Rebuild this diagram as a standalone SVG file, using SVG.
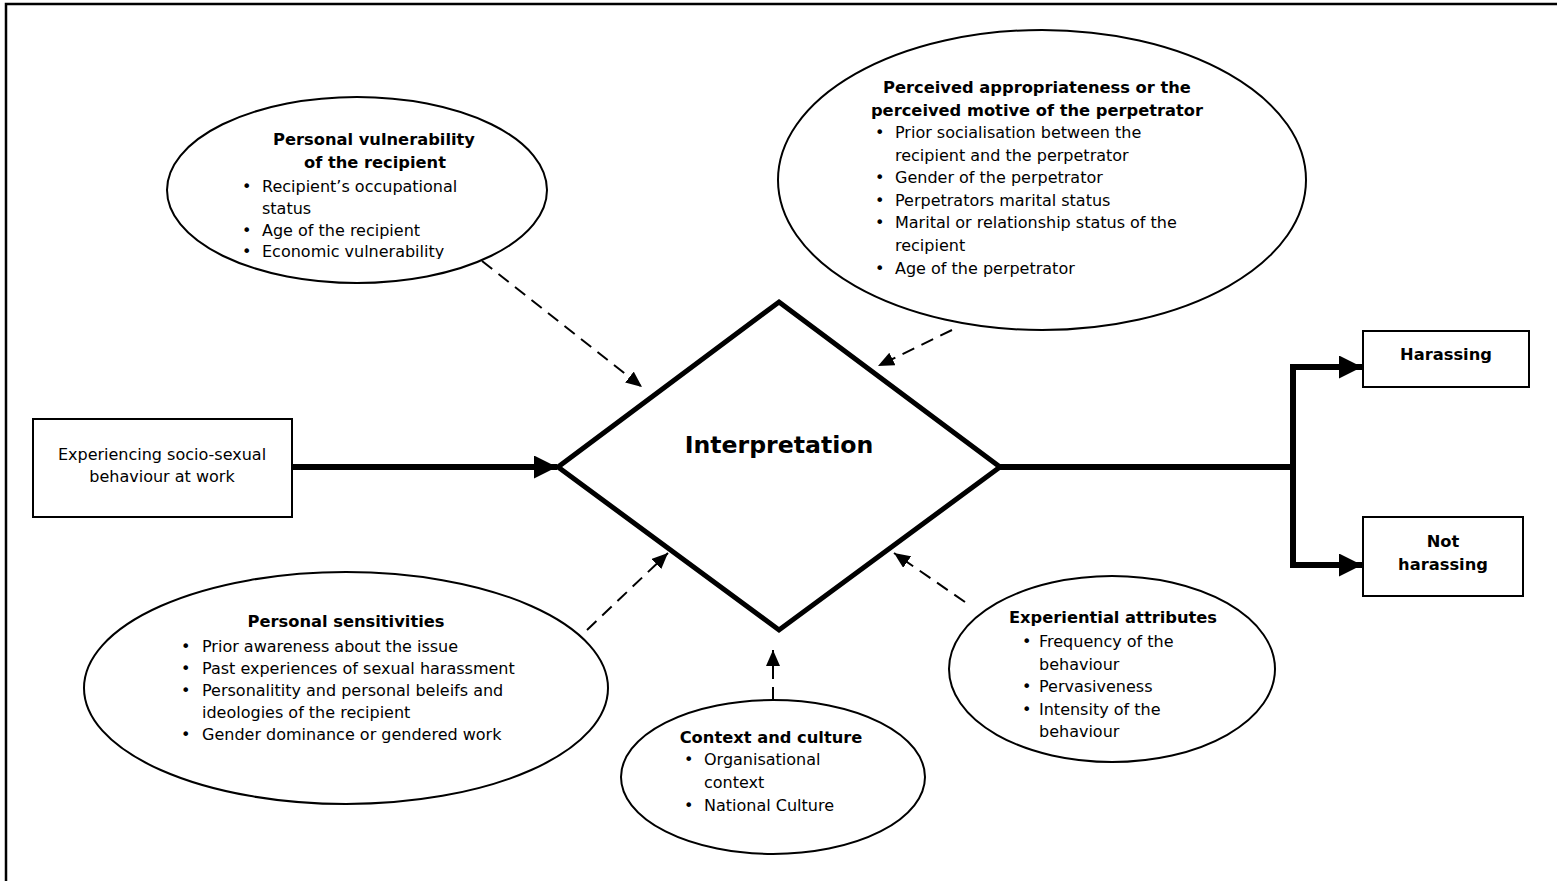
<svg xmlns="http://www.w3.org/2000/svg" width="1557" height="881" viewBox="0 0 1557 881">
<style>
text{font-family:"DejaVu Sans",Verdana,sans-serif;font-size:16px;fill:#000}
.b{font-weight:bold;font-size:16.3px}
.c{text-anchor:middle}
.shape{fill:#fff;stroke:#000;stroke-width:2}
.thick{fill:none;stroke:#000;stroke-width:6}
.dash{fill:none;stroke:#000;stroke-width:2;stroke-dasharray:13 8}
</style>
<defs>
<marker id="ah" markerUnits="userSpaceOnUse" markerWidth="16" markerHeight="14" refX="16" refY="7" orient="auto"><path d="M0,0 L16,7 L0,14 z" fill="#000"/></marker>
<marker id="big" markerUnits="userSpaceOnUse" markerWidth="23" markerHeight="23" refX="23" refY="11.5" orient="auto"><path d="M0,0 L23,11.5 L0,23 z" fill="#000"/></marker>
<clipPath id="vclip"><rect x="150" y="80" width="420" height="179"/></clipPath>
</defs>
<rect x="6" y="4" width="1600" height="900" fill="#fff" stroke="#000" stroke-width="2.5"/>

<g id="connectors">
<line class="thick" x1="292" y1="467" x2="557" y2="467" marker-end="url(#big)"/>
<polyline class="thick" points="1000,467 1293,467"/>
<polyline class="thick" points="1362,367 1293,367 1293,565 1362,565" marker-end="url(#big)"/>
<line class="thick" x1="1293" y1="367" x2="1362" y2="367" marker-end="url(#big)"/>
<line class="dash" x1="482" y1="261" x2="642" y2="387" marker-end="url(#ah)"/>
<line class="dash" x1="952" y1="330" x2="878" y2="366" marker-end="url(#ah)"/>
<line class="dash" x1="587" y1="630" x2="668" y2="553" marker-end="url(#ah)"/>
<line class="dash" x1="965" y1="602" x2="894" y2="553" marker-end="url(#ah)"/>
<line class="dash" x1="773" y1="700" x2="773" y2="650" marker-end="url(#ah)"/>
</g>

<g id="interpretation">
<polygon points="779,302 1000,467 779,630 558,467" fill="#fff" stroke="#000" stroke-width="5" stroke-linejoin="miter"/>
<text class="b c" x="779" y="453" style="font-size:23.6px">Interpretation</text>
</g>

<g id="experiencing">
<rect class="shape" x="33" y="419" width="259" height="98"/>
<text class="c" x="162" y="460">Experiencing socio-sexual</text>
<text class="c" x="162" y="482">behaviour at work</text>
</g>

<g id="harassing">
<rect class="shape" x="1363" y="331" width="166" height="56"/>
<text class="b c" x="1446" y="360">Harassing</text>
</g>

<g id="not-harassing">
<rect class="shape" x="1363" y="517" width="160" height="79"/>
<text class="b c" x="1443" y="547">Not</text>
<text class="b c" x="1443" y="570">harassing</text>
</g>

<g id="vulnerability">
<ellipse class="shape" cx="357" cy="190" rx="190" ry="93"/>
<text class="b c" x="374" y="145">Personal vulnerability</text>
<text class="b c" x="375" y="168">of the recipient</text>
<g clip-path="url(#vclip)">
<text x="242" y="192">•</text><text x="262" y="192">Recipient’s occupational</text>
<text x="262" y="214">status</text>
<text x="242" y="236">•</text><text x="262" y="236">Age of the recipient</text>
<text x="242" y="257">•</text><text x="262" y="257">Economic vulnerability</text>
</g>
</g>

<g id="perceived">
<ellipse class="shape" cx="1042" cy="180" rx="264" ry="150"/>
<text class="b c" x="1037" y="93">Perceived appropriateness or the</text>
<text class="b c" x="1037" y="116">perceived motive of the perpetrator</text>
<text x="875" y="138">•</text><text x="895" y="138">Prior socialisation between the</text>
<text x="895" y="161">recipient and the perpetrator</text>
<text x="875" y="183">•</text><text x="895" y="183">Gender of the perpetrator</text>
<text x="875" y="206">•</text><text x="895" y="206">Perpetrators marital status</text>
<text x="875" y="228">•</text><text x="895" y="228">Marital or relationship status of the</text>
<text x="895" y="251">recipient</text>
<text x="875" y="274">•</text><text x="895" y="274">Age of the perpetrator</text>
</g>

<g id="sensitivities">
<ellipse class="shape" cx="346" cy="688" rx="262" ry="116"/>
<text class="b c" x="346" y="627">Personal sensitivities</text>
<text x="181" y="652">•</text><text x="202" y="652">Prior awareness about the issue</text>
<text x="181" y="674">•</text><text x="202" y="674">Past experiences of sexual harassment</text>
<text x="181" y="696">•</text><text x="202" y="696">Personalitity and personal beleifs and</text>
<text x="202" y="718">ideologies of the recipient</text>
<text x="181" y="740">•</text><text x="202" y="740">Gender dominance or gendered work</text>
</g>

<g id="context">
<ellipse class="shape" cx="773" cy="777" rx="152" ry="77"/>
<text class="b c" x="771" y="743">Context and culture</text>
<text x="684" y="765">•</text><text x="704" y="765">Organisational</text>
<text x="704" y="788">context</text>
<text x="684" y="811">•</text><text x="704" y="811">National Culture</text>
</g>

<g id="experiential">
<ellipse class="shape" cx="1112" cy="669" rx="163" ry="93"/>
<text class="b c" x="1113" y="623">Experiential attributes</text>
<text x="1022" y="647">•</text><text x="1039" y="647">Frequency of the</text>
<text x="1039" y="670">behaviour</text>
<text x="1022" y="692">•</text><text x="1039" y="692">Pervasiveness</text>
<text x="1022" y="715">•</text><text x="1039" y="715">Intensity of the</text>
<text x="1039" y="737">behaviour</text>
</g>
</svg>
